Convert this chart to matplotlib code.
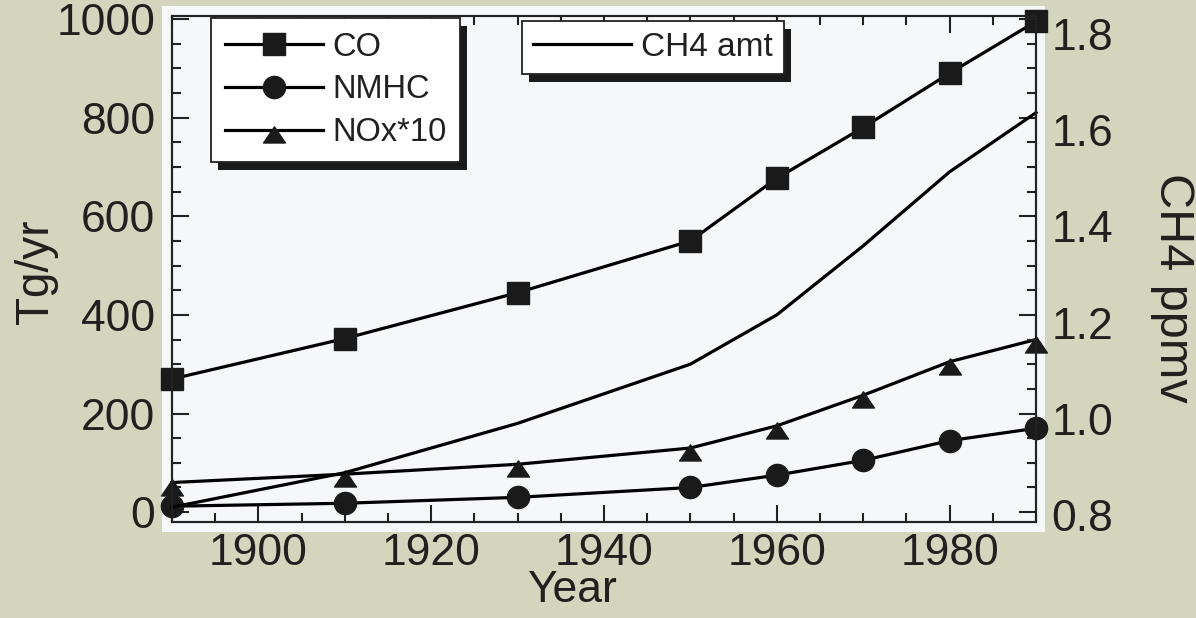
import matplotlib
matplotlib.use("Agg")
import matplotlib.pyplot as plt
from matplotlib.patches import Rectangle
from matplotlib.path import Path
from matplotlib.transforms import IdentityTransform, ScaledTranslation
from matplotlib.ticker import MultipleLocator

# ---- data ----
years = [1890, 1910, 1930, 1950, 1960, 1970, 1980, 1990]
co = [270, 352, 445, 550, 677, 780, 890, 995]
nmhc = [12, 18, 30, 50, 75, 105, 145, 170]
nox10 = [60, 77, 97, 130, 175, 237, 305, 350]
ch4 = [0.81, 0.88, 0.98, 1.10, 1.20, 1.34, 1.49, 1.61]

series_labels = ["CO", "NMHC", "NOx*10"]
ch4_label = "CH4 amt"
xticks = [1900, 1920, 1940, 1960, 1980]
yticks_left = [0, 200, 400, 600, 800, 1000]
yticks_right = [0.8, 1.0, 1.2, 1.4, 1.6, 1.8]

plt.rcParams['font.family'] = ['Liberation Sans', 'DejaVu Sans']
TXT = '#231f20'

W, H = 1196, 618
fig = plt.figure(figsize=(W / 100, H / 100), dpi=100)
fig.patch.set_facecolor('#d4d5bd')

def fx(px):
    return px / W

def fy(py):
    return 1 - py / H

# white panel behind the axes
fig.add_artist(Rectangle((fx(162), fy(532)), fx(1045) - fx(162), fy(6) - fy(532),
                         transform=fig.transFigure, facecolor='#f6f7f9',
                         edgecolor='none', zorder=-5))

ax = fig.add_axes([fx(172), fy(522), fx(1036) - fx(172), fy(16) - fy(522)])
ax.set_facecolor('none')
ax2 = ax.twinx()
ax2.set_facecolor('none')

# triangle hanging below the line (apex near line)
tri = Path([(0, 0.35), (-1.05, -1.2), (1.05, -1.2), (0, 0.35)],
           [Path.MOVETO, Path.LINETO, Path.LINETO, Path.CLOSEPOLY])

lw = 2.3
mc = '#1a1a1a'
l_co, = ax.plot(years, co, color='k', lw=lw, marker='s', ms=16, mfc=mc, mec=mc)
l_nm, = ax.plot(years, nmhc, color='k', lw=lw, marker='o', ms=16, mfc=mc, mec=mc)
l_nx, = ax.plot(years, nox10, color='k', lw=lw, marker=tri, ms=18, mfc=mc, mec=mc)
l_ch4, = ax2.plot(years, ch4, color='k', lw=lw)
for l in (l_co, l_nm, l_nx, l_ch4):
    l.set_clip_on(False)

ax.set_xlim(1890, 1990)
ymin, ymax = -20, 1006
ax.set_ylim(ymin, ymax)
ax2.set_ylim(0.8 + ymin / 1000, 0.8 + ymax / 1000)

ax.set_xticks(xticks)
ax.set_yticks(yticks_left)
ax2.set_yticks(yticks_right)
ax.xaxis.set_minor_locator(MultipleLocator(5))
ax.yaxis.set_minor_locator(MultipleLocator(50))
ax2.yaxis.set_minor_locator(MultipleLocator(0.05))
ax2.set_yticklabels([f"{v:.1f}" for v in yticks_right])

for a in (ax, ax2):
    for s in a.spines.values():
        s.set_linewidth(1.5)
        s.set_color('#222222')
ax.tick_params(which='both', direction='in', top=True, right=False, colors='#222222',
               labelcolor=TXT, labelsize=32, width=1.5)
ax.tick_params(which='major', length=12.5)
ax.tick_params(which='minor', length=6.5)
ax.tick_params(axis='y', pad=12)
ax.tick_params(axis='x', pad=8)
ax2.tick_params(which='both', direction='in', colors='#222222', labelcolor=TXT,
                labelsize=32, width=1.5, pad=11)
ax2.tick_params(which='major', length=12.5)
ax2.tick_params(which='minor', length=6.5)

ax.set_xlabel('Year', fontsize=32, color=TXT)
ax.xaxis.set_label_coords((572 - 172) / (1036 - 172), -0.095)
ax.set_ylabel('Tg/yr', fontsize=33, color=TXT)
ax.yaxis.set_label_coords(fx(36), fy(272), transform=fig.transFigure)
ax.yaxis.label.set_va('center')
ax2.set_ylabel('CH4 ppmv', fontsize=35, color=TXT, rotation=270)
ax2.yaxis.set_label_coords(fx(1172), fy(288), transform=fig.transFigure)
ax2.yaxis.label.set_va('center')

# legends
leg1 = ax2.legend(handles=[l_co, l_nm, l_nx], labels=series_labels,
                  loc='upper left', bbox_to_anchor=(fx(211), fy(18)),
                  bbox_transform=fig.transFigure, fontsize=23.5, frameon=True,
                  fancybox=False, edgecolor='#222222', facecolor='white', framealpha=1,
                  handlelength=3.0, handletextpad=0.3, labelspacing=0.36,
                  borderpad=0.42, borderaxespad=0, labelcolor=TXT)
leg1.get_frame().set_linewidth(1.3)
ax2.add_artist(leg1)
leg2 = ax2.legend(handles=[l_ch4], labels=[ch4_label],
                  loc='upper left', bbox_to_anchor=(fx(522), fy(21)),
                  bbox_transform=fig.transFigure, fontsize=24, frameon=True,
                  fancybox=False, edgecolor='#222222', facecolor='white', framealpha=1,
                  handlelength=2.95, handletextpad=0.3, borderpad=0.33,
                  borderaxespad=0, labelcolor=TXT)
leg2.get_frame().set_linewidth(1.3)

# drop shadows behind legends
fig.canvas.draw()
for lg in (leg1, leg2):
    bb = lg.get_window_extent()
    fig.add_artist(Rectangle((bb.x0 + 7, bb.y0 - 8), bb.width, bb.height,
                             transform=IdentityTransform(), facecolor='#1a1a1a',
                             edgecolor='none', zorder=-1))

# right-hand labels sit slightly lower than their ticks in the original
for tick in ax2.yaxis.get_major_ticks():
    v = tick.get_loc()
    dpx = 3 + (v - 0.8) * 12
    lab = tick.label2
    lab.set_transform(lab.get_transform() + ScaledTranslation(0, -dpx / 100, fig.dpi_scale_trans))

fig.savefig('out.png', dpi=100)
